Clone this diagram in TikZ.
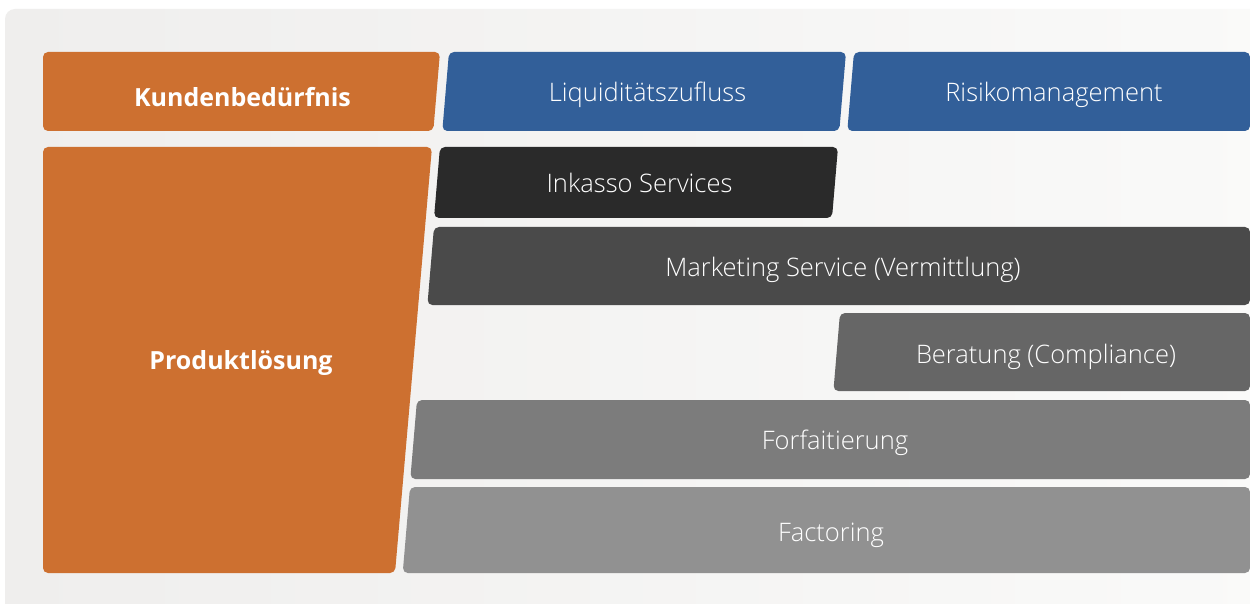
\documentclass[tikz,border=0pt]{standalone}
\usepackage{fontspec}
\setmainfont{Open Sans Light}[BoldFont={Open Sans Bold}]
\definecolor{orangeC}{HTML}{CD7030}
\definecolor{blueC}{HTML}{325F99}
\definecolor{inkC}{HTML}{2A2A2A}
\definecolor{mktC}{HTML}{4A4A4A}
\definecolor{berC}{HTML}{666666}
\definecolor{forC}{HTML}{7C7C7C}
\definecolor{facC}{HTML}{919191}
\definecolor{bgL}{HTML}{EFEEED}
\definecolor{bgR}{HTML}{FAFAF9}
\begin{document}
\begin{tikzpicture}[x=1pt,y=-1pt,
  boxfill/.style={rounded corners=5pt},
  lbl/.style={text=white,font=\fontsize{25.5}{28}\selectfont,anchor=base,inner sep=0pt},
  blbl/.style={text=white,font=\fontsize{25}{28}\selectfont\bfseries,anchor=base,inner sep=0pt}]
\useasboundingbox (0,0) rectangle (1250,604);
\clip (0,0) rectangle (1250,604);
\fill[white] (0,0) rectangle (1250,604);
\shade[left color=bgL,right color=bgR,rounded corners=10pt] (5,9) rectangle (1280,640);
% header row
\fill[orangeC,boxfill] (43,52) -- (440,52) -- (433.3,131) -- (43,131) -- cycle;
\node[blbl] (kb) at (242.5,106.5) {Kundenbedürfnis};
\fill[blueC,boxfill] (449,52) -- (846,52) -- (839.3,131) -- (442.3,131) -- cycle;
\node[lbl] (lz) at (647.5,102) {Liquiditätszufluss};
\fill[blueC,boxfill] (854,52) -- (1250,52) -- (1250,131) -- (847.3,131) -- cycle;
\node[lbl] (rm) at (1054,102) {Risikomanagement};
% left block
\fill[orangeC,boxfill] (43,147) -- (432,147) -- (395,573) -- (43,573) -- cycle;
\node[blbl] (pl) at (241,369) {Produktlösung};
% bars
\fill[inkC,boxfill] (440,147) -- (838,147) -- (832,218) -- (434,218) -- cycle;
\node[lbl] (ik) at (639.5,193) {Inkasso Services};
\fill[mktC,boxfill] (434,227) -- (1250,227) -- (1250,305) -- (427.4,305) -- cycle;
\node[lbl] (ms) at (843,276) {Marketing Service (Vermittlung)};
\fill[berC,boxfill] (840,313) -- (1250,313) -- (1250,391) -- (833.4,391) -- cycle;
\node[lbl] (be) at (1046,363) {Beratung (Compliance)};
\fill[forC,boxfill] (417,400) -- (1250,400) -- (1250,479) -- (410.3,479) -- cycle;
\node[lbl] (fo) at (835,449.5) {Forfaitierung};
\fill[facC,boxfill] (410,487) -- (1250,487) -- (1250,573) -- (402.7,573) -- cycle;
\node[lbl] (fa) at (831,541.5) {Factoring};
\end{tikzpicture}
\end{document}
